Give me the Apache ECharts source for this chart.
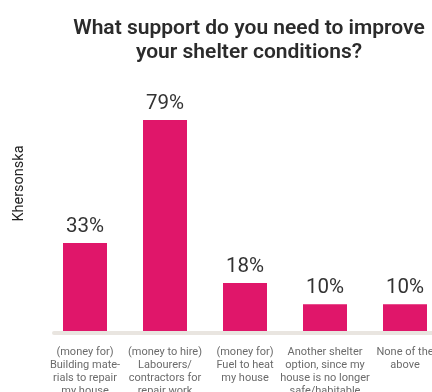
<!DOCTYPE html>
<html>
<head>
<meta charset="utf-8">
<script src="https://cdn.jsdelivr.net/npm/echarts@6/dist/echarts.min.js"></script>
<style>
  html, body { margin: 0; padding: 0; background: #ffffff; }
  #chart { width: 432px; height: 392px; }
</style>
</head>
<body>
<div id="chart"></div>
<script>
// Survey answers for Khersonska oblast
const categories = [
  '(money for)\nBuilding mate-\nrials to repair\nmy house',
  '(money to hire)\nLabourers/\ncontractors for\nrepair work',
  '(money for)\nFuel to heat\nmy house',
  'Another shelter\noption, since my\nhouse is no longer\nsafe/habitable',
  'None of the\nabove'
];
const shares = [33, 79, 18, 10, 10];
const regionName = 'Khersonska';
const titleText = 'What support do you need to improve\nyour shelter conditions?';

const chart = echarts.init(document.getElementById('chart'));
chart.setOption({
  animation: false,
  textStyle: { fontFamily: 'Roboto' },
  title: {
    text: titleText,
    left: 244,
    top: 11,
    textAlign: 'center',
    textStyle: {
      fontFamily: 'Roboto',
      fontSize: 21,
      fontWeight: 600,
      color: '#2b2b2b',
      lineHeight: 24.5
    }
  },
  grid: [
    { left: 45, right: -13, top: 64, bottom: 61, outerBoundsMode: 'none' },
    { left: 54, right: 0, top: 64, bottom: 59, outerBoundsMode: 'none' }
  ],
  xAxis: [
    {
      type: 'category',
      gridIndex: 0,
      data: categories,
      axisLine: { show: false },
      axisTick: { show: false },
      axisLabel: {
        interval: 0,
        margin: 15,
        color: '#6b6b6b',
        fontSize: 11,
        lineHeight: 13,
        align: 'center',
        verticalAlign: 'top'
      }
    },
    {
      type: 'category',
      gridIndex: 1,
      data: [''],
      axisLine: { show: true, lineStyle: { color: '#e9e5e0', width: 4 } },
      axisTick: { show: false },
      axisLabel: { show: false }
    }
  ],
  yAxis: [
    {
      type: 'value',
      gridIndex: 0,
      min: 0,
      max: 100,
      name: regionName,
      nameLocation: 'middle',
      nameRotate: 90,
      nameGap: 18,
      nameTextStyle: {
        color: '#222222',
        fontSize: 14.5,
        fontFamily: 'Roboto',
        padding: [0, 0, 0, 28]
      },
      axisLine: { show: false },
      axisTick: { show: false },
      axisLabel: { show: false },
      splitLine: { show: false }
    },
    {
      type: 'value',
      gridIndex: 1,
      show: false
    }
  ],
  series: [
    {
      type: 'bar',
      xAxisIndex: 0,
      yAxisIndex: 0,
      data: shares,
      barWidth: 44,
      itemStyle: { color: '#e0166a' },
      label: {
        show: true,
        position: 'top',
        distance: 6,
        formatter: '{c}%',
        color: '#333333',
        fontSize: 20.5,
        fontFamily: 'Roboto'
      }
    }
  ]
});
</script>
</body>
</html>
